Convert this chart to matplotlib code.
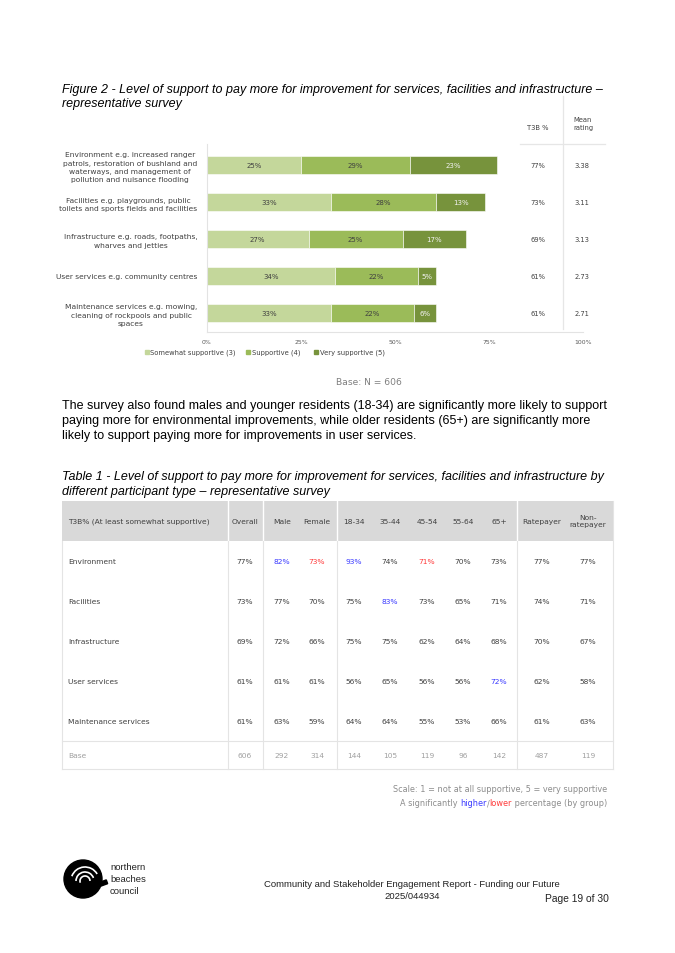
import matplotlib
matplotlib.use("Agg")
import matplotlib.pyplot as plt
from matplotlib.patches import Rectangle, Circle, Arc
import numpy as np

# ---------------- data ----------------
categories = [
    "Environment e.g. increased ranger\npatrols, restoration of bushland and\nwaterways, and management of\npollution and nuisance flooding",
    "Facilities e.g. playgrounds, public\ntoilets and sports fields and facilities",
    "Infrastructure e.g. roads, footpaths,\nwharves and jetties",
    "User services e.g. community centres",
    "Maintenance services e.g. mowing,\ncleaning of rockpools and public\nspaces",
]
series_names = ["Somewhat supportive (3)", "Supportive (4)", "Very supportive (5)"]
somewhat = [25, 33, 27, 34, 33]
supportive = [29, 28, 25, 22, 22]
very = [23, 13, 17, 5, 6]
t3b = [77, 73, 69, 61, 61]
mean_rating = [3.38, 3.11, 3.13, 2.73, 2.71]
x_ticks = [0, 25, 50, 75, 100]

table_cols = ["Overall", "Male", "Female", "18-34", "35-44", "45-54", "55-64", "65+",
              "Ratepayer", "Non-\nratepayer"]
table_rows = ["Environment", "Facilities", "Infrastructure", "User services", "Maintenance services"]
table_vals = [
    [77, 82, 73, 93, 74, 71, 70, 73, 77, 77],
    [73, 77, 70, 75, 83, 73, 65, 71, 74, 71],
    [69, 72, 66, 75, 75, 62, 64, 68, 70, 67],
    [61, 61, 61, 56, 65, 56, 56, 72, 62, 58],
    [61, 63, 59, 64, 64, 55, 53, 66, 61, 63],
]
table_base = [606, 292, 314, 144, 105, 119, 96, 142, 487, 119]
sig_higher = [(0, 1), (0, 3), (1, 4), (3, 7)]
sig_lower = [(0, 2), (0, 5)]

# ---------------- style ----------------
W, H = 675, 954
colors = ["#c4d79b", "#9bbb59", "#77933c"]
seg_text = ["#404040", "#404040", "#f2f2f2"]
BLUE = "#3a3aff"
RED = "#ff3b3b"
CF = "DejaVu Sans"      # chart / table font (stand-in for Century Gothic)
BF = "Liberation Sans"  # body font (Arial)

fig = plt.figure(figsize=(W / 100, H / 100), dpi=100)
bg = fig.add_axes([0, 0, 1, 1])
bg.set_xlim(0, W)
bg.set_ylim(H, 0)
bg.axis("off")

def T(x, y, s, **kw):
    kw.setdefault("family", BF)
    kw.setdefault("fontsize", 9)
    kw.setdefault("color", "black")
    kw.setdefault("va", "center")
    return bg.text(x, y, s, **kw)

# ---------------- headings / body text ----------------
T(62, 90, "Figure 2 - Level of support to pay more for improvement for services, facilities and infrastructure \u2013",
  style="italic")
T(62, 104, "representative survey", style="italic")

para = ["The survey also found males and younger residents (18-34) are significantly more likely to support",
        "paying more for environmental improvements, while older residents (65+) are significantly more",
        "likely to support paying more for improvements in user services."]
for i, line in enumerate(para):
    T(62, 406 + i * 15, line)

T(62, 477, "Table 1 - Level of support to pay more for improvement for services, facilities and infrastructure by",
  style="italic")
T(62, 492, "different participant type \u2013 representative survey", style="italic")

# ---------------- bar chart ----------------
L, R, TOP, BOT = 207, 583, 145, 333
ax = fig.add_axes([L / W, 1 - BOT / H, (R - L) / W, (BOT - TOP) / H])
ypos = np.arange(len(categories))
left = np.zeros(len(categories))
for vals, c, tc in zip([somewhat, supportive, very], colors, seg_text):
    vals = np.array(vals, dtype=float)
    bars = ax.barh(ypos, vals, left=left, height=0.49, color=c, edgecolor="white", linewidth=0.4)
    for b, v in zip(bars, vals):
        ax.text(b.get_x() + b.get_width() / 2, b.get_y() + b.get_height() / 2, f"{int(v)}%",
                ha="center", va="center", fontsize=5.0, family=CF, color=tc)
    left += vals
ax.set_xlim(0, 100)
ax.set_ylim(len(categories) - 1 + 0.514, -0.568)
ax.set_yticks(ypos)
ax.set_yticklabels(categories, fontsize=5.4, family=CF, color="#404040", multialignment="center",
                   linespacing=1.45)
ax.set_xticks(x_ticks)
ax.set_xticklabels([f"{t}%" for t in x_ticks], fontsize=4.4, family=CF, color="#595959")
ax.tick_params(axis="both", length=0, pad=5)
ax.tick_params(axis="y", pad=7)
for s in ["top", "right"]:
    ax.spines[s].set_visible(False)
for s in ["left", "bottom"]:
    ax.spines[s].set_color("#e3e3e3")
    ax.spines[s].set_linewidth(0.8)
ax.set_facecolor("none")

# T3B and mean columns
tr = ax.get_yaxis_transform()
x_t3b = (538 - L) / (R - L)
x_mean = (582 - L) / (R - L)
for y, a, m in zip(ypos, t3b, mean_rating):
    ax.text(x_t3b, y, f"{a}%", transform=tr, ha="center", va="center", fontsize=4.9, family=CF,
            color="#404040", clip_on=False)
    ax.text(x_mean, y, f"{m:.2f}", transform=tr, ha="center", va="center", fontsize=4.9, family=CF,
            color="#404040", clip_on=False)
bg.text(538, 128, "T3B %", ha="center", va="center", fontsize=4.9, family=CF, color="#404040")
bg.text(583, 124, "Mean\nrating", ha="center", va="center", fontsize=4.9, family=CF, color="#404040",
        linespacing=1.3)
bg.plot([563, 563], [97, 330], color="#e6e6e6", lw=0.9)
bg.plot([520, 605], [145, 145], color="#e6e6e6", lw=0.9)

# legend
leg_x = [147, 248, 316]
for lx, name, c in zip(leg_x, series_names, colors):
    bg.add_patch(Rectangle((lx - 2.2, 353 - 2.2), 4.4, 4.4, color=c))
    bg.text(lx + 3.5, 353, name, ha="left", va="center", fontsize=4.9, family=CF, color="#404040")

bg.text(369, 383, "Base: N = 606", ha="center", va="center", fontsize=6.6, family=CF, color="#7f7f7f")

# ---------------- table ----------------
tx0, tx1 = 62, 613
hdr_top, hdr_bot = 502, 542
row_h = 40
base_top = hdr_bot + row_h * len(table_rows)
base_bot = 770
col_x = [245, 282, 317, 354, 390, 427, 463, 499, 542, 588]
vlines = [228, 263, 337, 517]

bg.add_patch(Rectangle((tx0, hdr_top), tx1 - tx0, hdr_bot - hdr_top, color="#d9d9d9", lw=0))
grid_c = "#e4e4e4"
for vx in vlines:
    bg.plot([vx, vx], [hdr_top, hdr_bot], color="white", lw=1.0)
    bg.plot([vx, vx], [hdr_bot, base_bot], color=grid_c, lw=0.8)
bg.plot([tx0, tx0], [hdr_bot, base_bot], color=grid_c, lw=0.8)
bg.plot([tx1, tx1], [hdr_top, base_bot], color=grid_c, lw=0.8)
bg.plot([tx0, tx1], [base_top, base_top], color=grid_c, lw=0.8)
bg.plot([tx0, tx1], [base_bot, base_bot], color=grid_c, lw=0.8)

tfs = 5.4
hc = (hdr_top + hdr_bot) / 2
bg.text(68, hc, "T3B% (At least somewhat supportive)", ha="left", va="center", fontsize=tfs,
        family=CF, color="#404040")
for cx, name in zip(col_x, table_cols):
    bg.text(cx, hc, name, ha="center", va="center", fontsize=tfs, family=CF, color="#404040",
            linespacing=1.2)

for r, (rname, vals) in enumerate(zip(table_rows, table_vals)):
    cy = hdr_bot + row_h * r + row_h / 2
    bg.text(68, cy, rname, ha="left", va="center", fontsize=tfs, family=CF, color="#404040")
    for c, (cx, v) in enumerate(zip(col_x, vals)):
        col = "#404040"
        if (r, c) in sig_higher:
            col = BLUE
        elif (r, c) in sig_lower:
            col = RED
        bg.text(cx, cy, f"{v}%", ha="center", va="center", fontsize=tfs, family=CF, color=col)

by = (base_top + base_bot) / 2
bg.text(68, by, "Base", ha="left", va="center", fontsize=tfs, family=CF, color="#a0a0a0")
for cx, v in zip(col_x, table_base):
    bg.text(cx, by, f"{v}", ha="center", va="center", fontsize=tfs, family=CF, color="#a0a0a0")

# notes under table
note_c = "#8c8c8c"
nfs = 5.9
bg.text(607, 790, "Scale: 1 = not at all supportive, 5 = very supportive", ha="right", va="center",
        fontsize=nfs, family=CF, color=note_c)
renderer = fig.canvas.get_renderer()
pieces = [("A significantly ", note_c), ("higher", BLUE), ("/", note_c), ("lower", RED),
          (" percentage (by group)", note_c)]
xr = 607
inv = bg.transData.inverted()
for txt, c in reversed(pieces):
    t = bg.text(xr, 804, txt, ha="right", va="center", fontsize=nfs, family=CF, color=c)
    bb = t.get_window_extent(renderer=renderer)
    xr = inv.transform((bb.x0, bb.y0))[0]

# ---------------- footer ----------------
bg.add_patch(Circle((83, 880), 19, color="black"))
for rr, th1, th2 in [(14, 200, 330), (9, 180, 340), (5, 160, 360)]:
    bg.add_patch(Arc((85, 882), 2 * rr, 2 * rr, theta1=th1, theta2=th2, color="white", lw=1.2))
bg.add_patch(Rectangle((95, 885), 12, 4, angle=-20, color="black"))
for i, w in enumerate(["northern", "beaches", "council"]):
    T(110, 868 + i * 12, w, fontsize=6.8, color="#222222")
T(412, 885, "Community and Stakeholder Engagement Report - Funding our Future", ha="center", fontsize=6.8,
  color="#222222")
T(412, 897, "2025/044934", ha="center", fontsize=6.8, color="#222222")
T(577, 899, "Page 19 of 30", ha="center", fontsize=7.4, color="#222222")

fig.savefig("out.png", dpi=100)
